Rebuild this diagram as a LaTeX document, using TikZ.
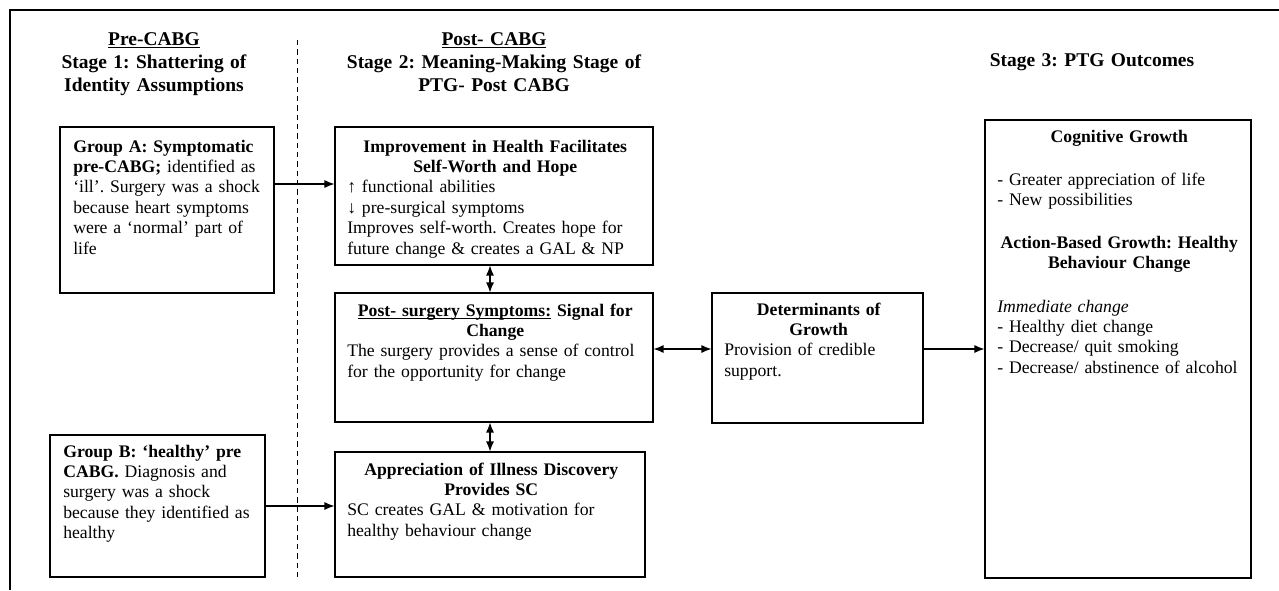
\documentclass[tikz,border=0pt]{standalone}
\usepackage{fontspec}
\setmainfont{Liberation Serif}
\frenchspacing
\usetikzlibrary{fit,arrows.meta}

\newcommand\ulText[1]{\underline{\smash{#1}}}

\tikzset{
    box/.style={draw, line width=0.8pt, inner sep=0pt},
    txt/.style={anchor=base west, inner sep=0pt, align=left, font=\fontsize{13.25}{15.3}\selectfont},
    head/.style={anchor=base, inner sep=0pt, align=center, text width=260pt, font=\bfseries\fontsize{14.6}{17.3}\selectfont},
    arr/.style={-{Latex[length=7.5pt,width=6pt]}, line width=0.9pt},
    darr/.style={{Latex[length=7.5pt,width=6pt]}-{Latex[length=7.5pt,width=6pt]}, line width=0.9pt}
}

\begin{document}
\begin{tikzpicture}[x=0.75pt, y=-0.75pt]
            \useasboundingbox (0,0) rectangle (1279,590);
            \draw[line width=0.8pt] (10,590) -- (10,10) -- (1279,10);
            \draw[dash pattern=on 4pt off 3pt, line width=0.6pt] (297,40) -- (297,577);
            % stage titles
            \node[head] (preHead) at (154,45) {\ulText{Pre-CABG}\\Stage 1: Shattering of\\Identity Assumptions};
            \node[head] (postHead) at (494,45) {\ulText{Post- CABG}\\Stage 2: Meaning-Making Stage of\\PTG- Post CABG};
            \node[head] (outHead) at (1092,66) {Stage 3: PTG Outcomes};
            % boxes
            \node[box, fit={(60,127) (274,293)}] (grpA) {};
            \node[box, fit={(335,127) (653,265)}] (improve) {};
            \node[box, fit={(335,293) (653,422)}] (post) {};
            \node[box, fit={(50,435) (265,577)}] (grpB) {};
            \node[box, fit={(335,452) (645,577)}] (apprec) {};
            \node[box, fit={(712,293) (923,423)}] (determ) {};
            \node[box, fit={(985,120) (1251,578)}] (outcome) {};
            % box texts
            \node[txt, text width=144pt] (grpAText) at (73,152) {\textbf{Group A: Symptomatic}\\\textbf{pre-CABG;} identified as\\‘ill’. Surgery was a shock\\because heart symptoms\\were a ‘normal’ part of\\life};
            \node[txt, text width=222pt] (improveText) at (347,152) {{\centering\bfseries Improvement in Health Facilitates\\Self-Worth and Hope\par}↑ functional abilities\\↓ pre-surgical symptoms\\Improves self-worth. Creates hope for\\future change \& creates a GAL \& NP};
            \node[txt, text width=222pt] (postText) at (347,316) {{\centering\bfseries \ulText{Post- surgery Symptoms:} Signal for\\Change\par}The surgery provides a sense of control\\for the opportunity for change};
            \node[txt, text width=144.75pt] (grpBText) at (63,457) {\textbf{Group B: ‘healthy’ pre}\\\textbf{CABG.} Diagnosis and\\surgery was a shock\\because they identified as\\healthy};
            \node[txt, text width=216pt] (apprecText) at (347,475) {{\centering\bfseries Appreciation of Illness Discovery\\Provides SC\par}SC creates GAL \& motivation for\\healthy behaviour change};
            \node[txt, text width=141.75pt] (determText) at (724,315) {{\centering\bfseries Determinants of\\Growth\par}Provision of credible\\support.};
            \node[txt, text width=183pt] (outText) at (997,142) {{\centering\bfseries Cognitive Growth\par}\vspace{17pt}- Greater appreciation of life\\- New possibilities\par\vspace{17pt}{\centering\bfseries Action-Based Growth: Healthy\\Behaviour Change\par}\vspace{17pt}\textit{Immediate change}\\- Healthy diet change\\- Decrease/ quit smoking\\- Decrease/ abstinence of alcohol};
            % connectors
            \coordinate (rowA) at (0,184);
            \coordinate (rowMid) at (0,349);
            \draw[arr] (grpA.east |- rowA) -- (improve.west |- rowA);
            \draw[arr] (grpB.east) -- (apprec.west |- grpB.east);
            \draw[darr] (improve.south -| apprec.north) -- (post.north -| apprec.north);
            \draw[darr] (post.south -| apprec.north) -- (apprec.north);
            \draw[darr] (post.east |- rowMid) -- (determ.west |- rowMid);
            \draw[arr] (determ.east |- rowMid) -- (outcome.west |- rowMid);
        \end{tikzpicture}
\end{document}
